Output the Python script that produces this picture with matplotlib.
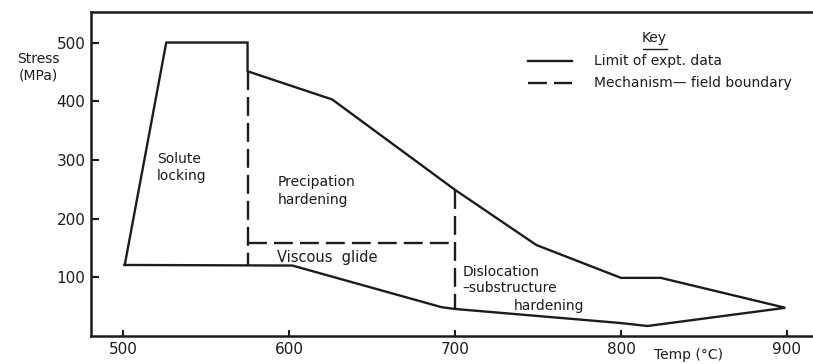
import matplotlib.pyplot as plt

# limit of experimental data (closed outline), temp in C / stress in MPa
limit_temp = [501, 526, 575, 575, 626, 700, 749, 800, 824, 899, 816, 800, 700, 692, 602, 501]
limit_stress = [121, 500, 500, 451, 403, 249, 155, 99, 99, 48, 17, 22, 46, 49, 120, 121]

# mechanism-field boundaries
bound_a_temp = [575, 575]
bound_a_stress = [451, 120]
bound_b_temp = [575, 700]
bound_b_stress = [158, 158]
bound_c_temp = [700, 700]
bound_c_stress = [249, 46]

x_ticks = [500, 600, 700, 800, 900]
y_ticks = [100, 200, 300, 400, 500]

ink = '#1c1c1c'
plt.rcParams['font.family'] = 'DejaVu Sans'

fig = plt.figure(figsize=(8.13, 3.64), dpi=100)
ax = fig.add_axes([0.112, 0.077, 0.888, 0.890])

ax.plot(limit_temp, limit_stress, color=ink, lw=1.7, solid_joinstyle='miter')
dash = dict(color=ink, lw=1.7, dashes=(8, 3))
ax.plot(bound_a_temp, bound_a_stress, **dash)
ax.plot(bound_b_temp, bound_b_stress, **dash)
ax.plot(bound_c_temp, bound_c_stress, **dash)

ax.set_xlim(480.7, 915.7)
ax.set_ylim(0, 552)
ax.set_xticks(x_ticks)
ax.set_yticks(y_ticks)
ax.tick_params(axis='x', direction='in', length=4.5, width=1.5, color=ink,
               labelsize=11, labelcolor=ink, pad=4)
ax.tick_params(axis='y', direction='in', length=6, width=1.5, color=ink,
               labelsize=11, labelcolor=ink, pad=4)
for side in ['left', 'top', 'bottom']:
    ax.spines[side].set_linewidth(1.8)
    ax.spines[side].set_color(ink)
ax.spines['right'].set_visible(False)

txt = dict(color=ink, fontsize=10, va='center', ha='left')
ax.text(520.5, 287, 'Solute\nlocking', linespacing=1.3, **txt)
ax.text(593, 247, 'Precipation\nhardening', linespacing=1.3, **txt)
ax.text(593, 134, 'Viscous  glide', fontsize=10.5, color=ink, va='center', ha='left')
ax.text(704.5, 109, 'Dislocation', **txt)
ax.text(704.5, 82, '\u2013substructure', **txt)
ax.text(735.5, 51, 'hardening', **txt)

# axis titles
fig.text(0.047, 0.815, 'Stress\n(MPa)', color=ink, fontsize=10, ha='center',
         va='center', linespacing=1.25)
fig.text(0.805, 0.025, 'Temp (\u00b0C)', color=ink, fontsize=10, ha='left',
         va='center')

# key
fig.text(0.805, 0.895, 'Key', color=ink, fontsize=10, ha='center', va='center')
fig.add_artist(plt.Line2D([0.791, 0.820], [0.866, 0.866], color=ink, lw=1.0))
fig.add_artist(plt.Line2D([0.650, 0.703], [0.832, 0.832], color=ink, lw=1.7))
fig.add_artist(plt.Line2D([0.650, 0.703], [0.772, 0.772], color=ink, lw=1.7,
                          dashes=(8, 3)))
fig.text(0.731, 0.832, 'Limit of expt. data', color=ink, fontsize=10,
         ha='left', va='center')
fig.text(0.731, 0.772, 'Mechanism\u2014 field boundary', color=ink, fontsize=10,
         ha='left', va='center')

fig.savefig('out.png', dpi=100)
